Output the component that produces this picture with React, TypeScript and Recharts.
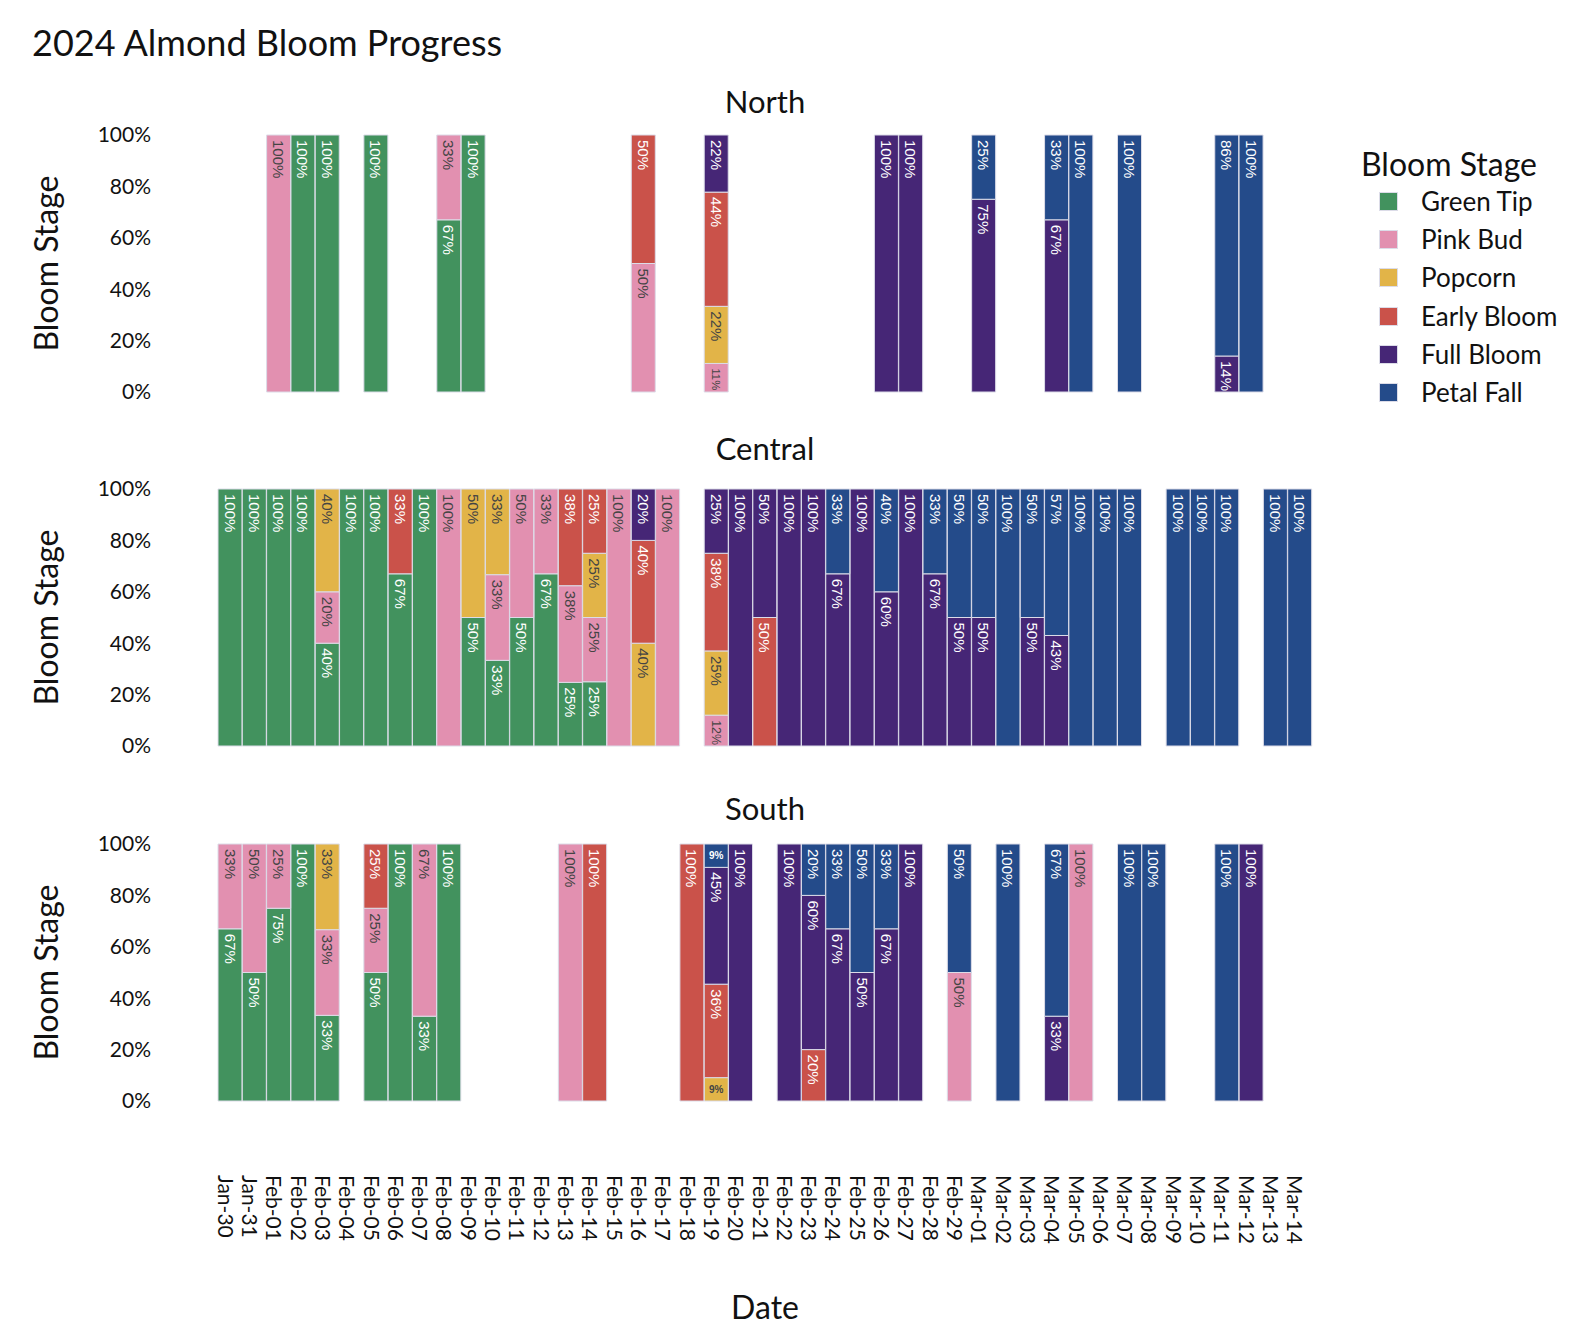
import React from 'react';
import { BarChart, Bar, XAxis, YAxis, LabelList } from 'recharts';

// Tick labels for the x axis
const DATES = [
  'Jan-30', 'Jan-31',
  'Feb-01', 'Feb-02', 'Feb-03', 'Feb-04', 'Feb-05', 'Feb-06', 'Feb-07', 'Feb-08', 'Feb-09', 'Feb-10',
  'Feb-11', 'Feb-12', 'Feb-13', 'Feb-14', 'Feb-15', 'Feb-16', 'Feb-17', 'Feb-18', 'Feb-19', 'Feb-20',
  'Feb-21', 'Feb-22', 'Feb-23', 'Feb-24', 'Feb-25', 'Feb-26', 'Feb-27', 'Feb-28', 'Feb-29',
  'Mar-01', 'Mar-02', 'Mar-03', 'Mar-04', 'Mar-05', 'Mar-06', 'Mar-07', 'Mar-08', 'Mar-09', 'Mar-10',
  'Mar-11', 'Mar-12', 'Mar-13', 'Mar-14',
];

const STAGES = ['Green Tip', 'Pink Bud', 'Popcorn', 'Early Bloom', 'Full Bloom', 'Petal Fall'];
const STAGE_KEYS = ['greenTip', 'pinkBud', 'popcorn', 'earlyBloom', 'fullBloom', 'petalFall'];
const STAGE_COLORS = ['#42925E', '#E290B0', '#E2B448', '#CA524A', '#462676', '#244B8A'];
const LABEL_COLORS = ['#ffffff', '#444444', '#444444', '#ffffff', '#ffffff', '#ffffff'];

const Y_TICKS = [0, 0.2, 0.4, 0.6, 0.8, 1];

// [date, green tip, pink bud, popcorn, early bloom, full bloom, petal fall] (%)
const NORTH = [
  ['Feb-01', 0, 100],
  ['Feb-02', 100],
  ['Feb-03', 100],
  ['Feb-05', 100],
  ['Feb-08', 67, 33],
  ['Feb-09', 100],
  ['Feb-16', 0, 50, 0, 50],
  ['Feb-19', 0, 11, 22, 44, 22],
  ['Feb-26', 0, 0, 0, 0, 100],
  ['Feb-27', 0, 0, 0, 0, 100],
  ['Mar-01', 0, 0, 0, 0, 75, 25],
  ['Mar-04', 0, 0, 0, 0, 67, 33],
  ['Mar-05', 0, 0, 0, 0, 0, 100],
  ['Mar-07', 0, 0, 0, 0, 0, 100],
  ['Mar-11', 0, 0, 0, 0, 14, 86],
  ['Mar-12', 0, 0, 0, 0, 0, 100],
];

const CENTRAL = [
  ['Jan-30', 100],
  ['Jan-31', 100],
  ['Feb-01', 100],
  ['Feb-02', 100],
  ['Feb-03', 40, 20, 40],
  ['Feb-04', 100],
  ['Feb-05', 100],
  ['Feb-06', 67, 0, 0, 33],
  ['Feb-07', 100],
  ['Feb-08', 0, 100],
  ['Feb-09', 50, 0, 50],
  ['Feb-10', 33, 33, 33],
  ['Feb-11', 50, 50],
  ['Feb-12', 67, 33],
  ['Feb-13', 25, 38, 0, 38],
  ['Feb-14', 25, 25, 25, 25],
  ['Feb-15', 0, 100],
  ['Feb-16', 0, 0, 40, 40, 20],
  ['Feb-17', 0, 100],
  ['Feb-19', 0, 12, 25, 38, 25],
  ['Feb-20', 0, 0, 0, 0, 100],
  ['Feb-21', 0, 0, 0, 50, 50],
  ['Feb-22', 0, 0, 0, 0, 100],
  ['Feb-23', 0, 0, 0, 0, 100],
  ['Feb-24', 0, 0, 0, 0, 67, 33],
  ['Feb-25', 0, 0, 0, 0, 100],
  ['Feb-26', 0, 0, 0, 0, 60, 40],
  ['Feb-27', 0, 0, 0, 0, 100],
  ['Feb-28', 0, 0, 0, 0, 67, 33],
  ['Feb-29', 0, 0, 0, 0, 50, 50],
  ['Mar-01', 0, 0, 0, 0, 50, 50],
  ['Mar-02', 0, 0, 0, 0, 0, 100],
  ['Mar-03', 0, 0, 0, 0, 50, 50],
  ['Mar-04', 0, 0, 0, 0, 43, 57],
  ['Mar-05', 0, 0, 0, 0, 0, 100],
  ['Mar-06', 0, 0, 0, 0, 0, 100],
  ['Mar-07', 0, 0, 0, 0, 0, 100],
  ['Mar-09', 0, 0, 0, 0, 0, 100],
  ['Mar-10', 0, 0, 0, 0, 0, 100],
  ['Mar-11', 0, 0, 0, 0, 0, 100],
  ['Mar-13', 0, 0, 0, 0, 0, 100],
  ['Mar-14', 0, 0, 0, 0, 0, 100],
];

const SOUTH = [
  ['Jan-30', 67, 33],
  ['Jan-31', 50, 50],
  ['Feb-01', 75, 25],
  ['Feb-02', 100],
  ['Feb-03', 33, 33, 33],
  ['Feb-05', 50, 25, 0, 25],
  ['Feb-06', 100],
  ['Feb-07', 33, 67],
  ['Feb-08', 100],
  ['Feb-13', 0, 100],
  ['Feb-14', 0, 0, 0, 100],
  ['Feb-18', 0, 0, 0, 100],
  ['Feb-19', 0, 0, 9, 36, 45, 9],
  ['Feb-20', 0, 0, 0, 0, 100],
  ['Feb-22', 0, 0, 0, 0, 100],
  ['Feb-23', 0, 0, 0, 20, 60, 20],
  ['Feb-24', 0, 0, 0, 0, 67, 33],
  ['Feb-25', 0, 0, 0, 0, 50, 50],
  ['Feb-26', 0, 0, 0, 0, 67, 33],
  ['Feb-27', 0, 0, 0, 0, 100],
  ['Feb-29', 0, 50, 0, 0, 0, 50],
  ['Mar-02', 0, 0, 0, 0, 0, 100],
  ['Mar-04', 0, 0, 0, 0, 33, 67],
  ['Mar-05', 0, 100],
  ['Mar-07', 0, 0, 0, 0, 0, 100],
  ['Mar-08', 0, 0, 0, 0, 0, 100],
  ['Mar-11', 0, 0, 0, 0, 0, 100],
  ['Mar-12', 0, 0, 0, 0, 100],
];

const FONT = 'Lato, "Open Sans", sans-serif';
const PLOT_H = 257;
const TOP_PAD = 20;

// one row per date, missing stages -> 0
const buildRows = (region: (string | number)[][]) =>
  DATES.map((date) => {
    const hit = region.find((r) => r[0] === date);
    const row: any = { date };
    STAGE_KEYS.forEach((k, i) => {
      row[k] = hit ? (hit[i + 1] ?? 0) : 0;
    });
    return row;
  });

const makeSegmentLabel = (color: string) => (props: any) => {
  const vb = props.viewBox || props;
  const { x, y, width, height } = vb;
  const value = props.value;
  if (!value || !height || height < 1) return null;
  const text = `${value}%`;
  const cx = x + width / 2;
  if (height < 25) {
    return (
      <text x={cx} y={y + height / 2} textAnchor="middle" dominantBaseline="central"
        fontSize={10} fontWeight={600} fontFamily="Liberation Sans, Arial" fill={color}>
        {text}
      </text>
    );
  }
  const em = (text.length - 1) * 0.556 + 0.889;
  const size = Math.min(15, (height - 6) / em);
  const ty = y + 5;
  return (
    <text x={cx} y={ty} transform={`rotate(90, ${cx}, ${ty})`} textAnchor="start"
      dominantBaseline="central" fontSize={size} fontFamily="Liberation Sans, Arial" fill={color}>
      {text}
    </text>
  );
};

const DateTick = (props: any) => {
  const { x, y, payload } = props;
  return (
    <text x={x} y={y} dy={4} transform={`rotate(90, ${x}, ${y})`} textAnchor="start"
      dominantBaseline="central" fontSize={21} fontFamily={FONT} fill="#111">
      {payload.value}
    </text>
  );
};

const YTitle = (props: any) => {
  const vb = props.viewBox || { y: TOP_PAD, height: PLOT_H };
  const cy = vb.y + vb.height / 2;
  return (
    <text x={45} y={cy} transform={`rotate(-90, 45, ${cy})`} textAnchor="middle"
      dominantBaseline="central" fontSize={32} fontFamily={FONT} fill="#111">
      Bloom Stage
    </text>
  );
};

const XTitle = (props: any) => {
  const vb = props.viewBox || { x: 218, y: TOP_PAD + PLOT_H, width: 1094 };
  const cx = vb.x + vb.width / 2;
  return (
    <text x={cx} y={vb.y + 205} textAnchor="middle" dominantBaseline="central"
      fontSize={32} fontFamily={FONT} fill="#111">
      Date
    </text>
  );
};

interface PanelProps {
  title: string;
  region: (string | number)[][];
  plotTop: number;
  titleTop: number;
  showDate?: boolean;
}

const Panel: React.FC<PanelProps> = ({ title, region, plotTop, titleTop, showDate }) => {
  const rows = buildRows(region);
  const xAxisHeight = showDate ? 230 : 0;
  const height = TOP_PAD + PLOT_H + (showDate ? xAxisHeight : 14);
  return (
    <>
      <div style={{
        position: 'absolute', left: 218, width: 1094, top: titleTop, textAlign: 'center',
        fontSize: 31, lineHeight: '31px', color: '#111',
      }}>
        {title}
      </div>
      <div style={{ position: 'absolute', left: 0, top: plotTop - TOP_PAD }}>
        <BarChart width={1330} height={height} data={rows} stackOffset="expand"
          barCategoryGap={0} barGap={0}
          margin={{ top: TOP_PAD, right: 18, bottom: showDate ? 0 : 14, left: 0 }}>
          <XAxis dataKey="date" hide={!showDate} height={xAxisHeight || 30} interval={0}
            axisLine={false} tickLine={false} tickSize={0} tickMargin={74}
            tick={<DateTick />} label={XTitle} />
          <YAxis width={218} domain={[0, 1]} ticks={Y_TICKS} interval={0}
            axisLine={false} tickLine={false} tickSize={0} tickMargin={67}
            tickFormatter={(v: number) => `${Math.round(v * 100)}%`}
            tick={{ fontSize: 21, fill: '#111', fontFamily: FONT }}
            label={YTitle} />
          {STAGE_KEYS.map((k, i) => (
            <Bar key={k} dataKey={k} name={STAGES[i]} stackId="stage" fill={STAGE_COLORS[i]}
              stroke="#dcdce8" strokeWidth={1} isAnimationActive={false}>
              <LabelList dataKey={k} content={makeSegmentLabel(LABEL_COLORS[i])} />
            </Bar>
          ))}
        </BarChart>
      </div>
    </>
  );
};

export default function App() {
  return (
    <div style={{
      position: 'absolute', left: 0, top: 0, width: 1576, height: 1336,
      background: '#fff', fontFamily: FONT, color: '#111', overflow: 'hidden',
    }}>
      <div style={{ position: 'absolute', left: 32, top: 24, fontSize: 36, lineHeight: '36px' }}>
        2024 Almond Bloom Progress
      </div>

      <Panel title="North" region={NORTH} plotTop={135} titleTop={86} />
      <Panel title="Central" region={CENTRAL} plotTop={489} titleTop={433} />
      <Panel title="South" region={SOUTH} plotTop={844} titleTop={793} showDate />

      {/* Legend */}
      <div style={{ position: 'absolute', left: 1361, top: 146 }}>
        <div style={{ fontSize: 32, lineHeight: '36px' }}>Bloom Stage</div>
        {STAGES.map((s, i) => (
          <div key={s} style={{ position: 'absolute', left: 0, top: 43 + i * 38.2, width: 215, height: 26 }}>
            <div style={{
              position: 'absolute', left: 18, top: 3, width: 19, height: 19,
              background: STAGE_COLORS[i], boxSizing: 'border-box', border: '1px solid #dcdce8',
            }} />
            <div style={{ position: 'absolute', left: 60, top: -1, fontSize: 26, lineHeight: '26px' }}>{s}</div>
          </div>
        ))}
      </div>
    </div>
  );
}
